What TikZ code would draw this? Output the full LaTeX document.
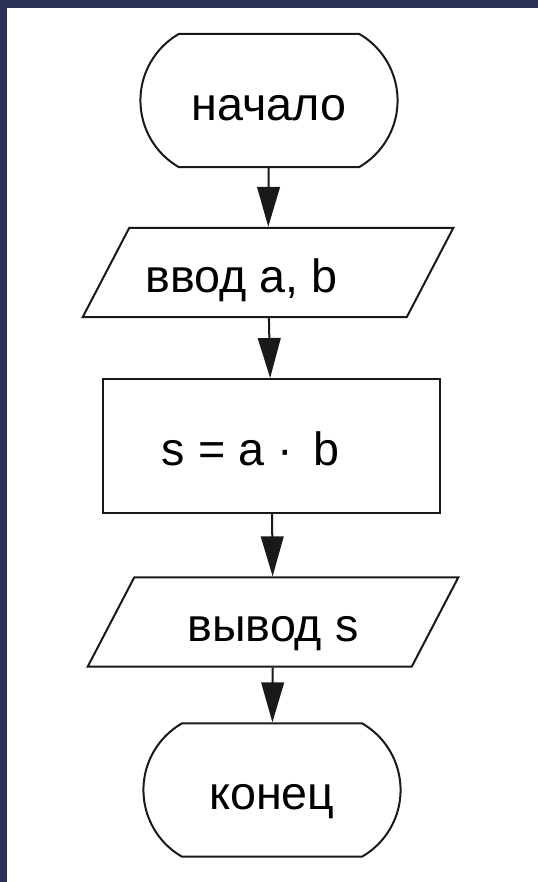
\documentclass[tikz,border=0pt]{standalone}
\usepackage{fontspec}
\setmainfont{Liberation Sans}
\usetikzlibrary{arrows.meta, shapes.geometric, shapes.misc}
\definecolor{framenavy}{RGB}{43,49,87}
\definecolor{lineink}{RGB}{25,25,25}

\begin{document}
\begin{tikzpicture}[x=0.75pt, y=-0.75pt, >={Triangle[length=30pt, width=17pt]},
    every node/.style={draw=lineink, line width=1.5pt, font=\fontsize{35}{42}\selectfont, text height=33pt, text depth=3.5pt},
    terminal/.style={rounded rectangle, rounded rectangle arc length=120, minimum width=199.5pt, minimum height=100pt},
    iobox/.style={trapezium, trapezium left angle=51, trapezium right angle=129, trapezium stretches body, minimum width=278pt, minimum height=67pt},
    procbox/.style={rectangle, minimum width=253pt, minimum height=100.5pt}]
    % Frame
    \useasboundingbox (0,0) rectangle (538,882);
    \fill[framenavy] (0,0) rectangle (538,8);
    \fill[framenavy] (0,0) rectangle (7,882);

    % Define blocks
    \node[terminal] (v0) at (269, 100.5) {начало};
    \node[iobox] (v1) at (268, 272.5) {ввод a, b\kern40pt};
    \node[procbox] (v2) at (271.5, 446) {s = a · \,b\kern31pt};
    \node[iobox] (v3) at (273, 622) {вывод s};
    \node[terminal] (v4) at (272, 790) {конец};

    % Draw arrows
    \draw[->, draw=lineink, line width=1.5pt] (v0) -- (v1); % start -> input
    \draw[->, draw=lineink, line width=1.5pt] (v1) -- (v2); % input -> process
    \draw[->, draw=lineink, line width=1.5pt] (v2) -- (v3); % process -> output
    \draw[->, draw=lineink, line width=1.5pt] (v3) -- (v4); % output -> end
\end{tikzpicture}
\end{document}
